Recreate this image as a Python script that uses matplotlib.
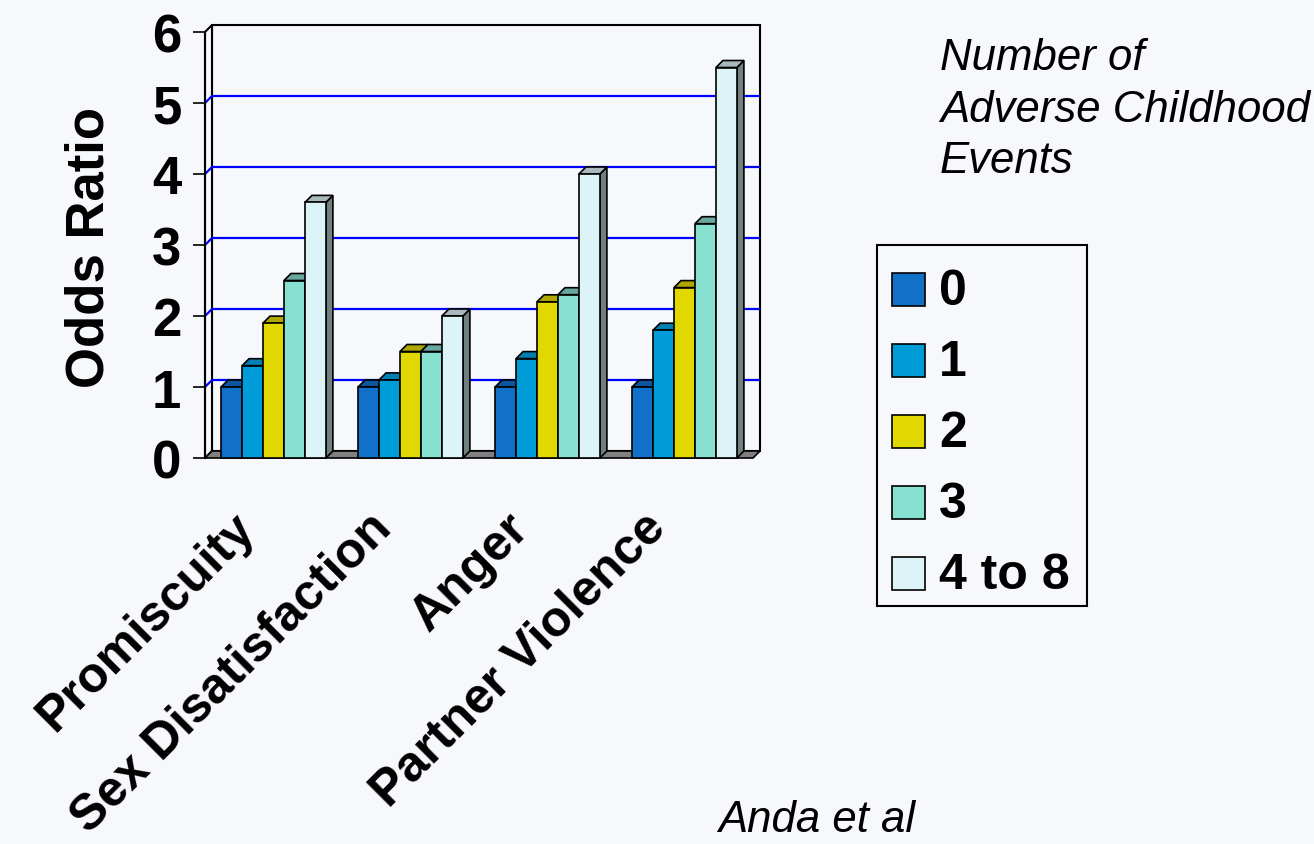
import matplotlib
matplotlib.use("Agg")
import matplotlib.pyplot as plt
from matplotlib.patches import Polygon, Rectangle
from matplotlib.transforms import blended_transform_factory, offset_copy

# ---- data -------------------------------------------------------------
categories = ["Promiscuity", "Sex Disatisfaction", "Anger", "Partner Violence"]
series_labels = ["0", "1", "2", "3", "4 to 8"]
ace_0 = [1.0, 1.0, 1.0, 1.0]
ace_1 = [1.3, 1.1, 1.4, 1.8]
ace_2 = [1.9, 1.5, 2.2, 2.4]
ace_3 = [2.5, 1.5, 2.3, 3.3]
ace_4_to_8 = [3.6, 2.0, 4.0, 5.5]
series_values = [ace_0, ace_1, ace_2, ace_3, ace_4_to_8]
y_ticks = [0, 1, 2, 3, 4, 5, 6]

# ---- style ------------------------------------------------------------
BG = "#f6f8fc"
front_colors = ["#1170c8", "#009cd8", "#e0d800", "#88e0d0", "#dcf4f8"]
top_colors = ["#0c56a0", "#0080b0", "#b0a800", "#68a8a0", "#a8b8bc"]
side_colors = ["#0a4a8c", "#006f9c", "#9c9400", "#5c948c", "#708080"]
FONT = "Liberation Sans"

W, H = 1314, 845
fig = plt.figure(figsize=(W / 100, H / 100), dpi=100, facecolor=BG)


def fx(px):
    return px / W


def fy(py):
    return 1 - py / H


# plot area (front plane) in pixels
left_px, right_px, top_px, bottom_px = 205, 753, 33, 459
ax = fig.add_axes([fx(left_px), fy(bottom_px),
                   fx(right_px - left_px), (bottom_px - top_px) / H])
ax.set_facecolor("none")
ax.set_xlim(-0.5, 3.5)
ax.set_ylim(0, 6)

# 3-D depth, 7 px in each direction, in data units
DX = 7 * 4.0 / (right_px - left_px)
DY = 7 * 6.0 / (bottom_px - top_px)
x0, x1 = -0.5, 3.5
ymax = 6

# back wall and left wall
ax.add_patch(Polygon([(x0 + DX, DY), (x1 + DX, DY), (x1 + DX, ymax + DY),
                      (x0 + DX, ymax + DY)], closed=True, facecolor=BG,
                     edgecolor="black", lw=1.5, zorder=0.5, clip_on=False))
ax.add_patch(Polygon([(x0, 0), (x0 + DX, DY), (x0 + DX, ymax + DY), (x0, ymax)],
                     closed=True, facecolor=BG, edgecolor="black", lw=1.5,
                     zorder=0.6, clip_on=False))

# gridlines on the walls
for v in y_ticks[1:-1]:
    ax.plot([x0, x0 + DX, x1 + DX], [v, v + DY, v + DY], color="#0000ff",
            lw=1.6, zorder=1, clip_on=False, solid_capstyle="butt")

# floor
ax.add_patch(Polygon([(x0, 0), (x1, 0), (x1 + DX, DY), (x0 + DX, DY)],
                     closed=True, facecolor="#808080", edgecolor="black",
                     lw=1.2, zorder=1.5, clip_on=False))

# bars
n_series = len(series_values)
bar_w = 0.153
group_w = bar_w * n_series
for j, vals in enumerate(series_values):
    xs = [i - group_w / 2 + j * bar_w for i in range(len(categories))]
    z = 3 + j * 0.1
    bars = ax.bar(xs, vals, width=bar_w, align="edge", color=front_colors[j],
                  edgecolor="black", linewidth=1.2, zorder=z + 0.05,
                  clip_on=False)
    for rect in bars:
        bx, bw, h = rect.get_x(), rect.get_width(), rect.get_height()
        ax.add_patch(Polygon([(bx + bw, 0), (bx + bw + DX, DY),
                              (bx + bw + DX, h + DY), (bx + bw, h)],
                             closed=True, facecolor=side_colors[j],
                             edgecolor="black", lw=1.2, zorder=z,
                             clip_on=False))
        ax.add_patch(Polygon([(bx, h), (bx + bw, h), (bx + bw + DX, h + DY),
                              (bx + DX, h + DY)], closed=True,
                             facecolor=top_colors[j], edgecolor="black",
                             lw=1.2, zorder=z, clip_on=False))

# axes: front left line with ticks
for s in ["top", "right", "bottom"]:
    ax.spines[s].set_visible(False)
ax.spines["left"].set_linewidth(1.5)
ax.spines["left"].set_zorder(5)
ax.set_yticks(y_ticks)
ax.set_yticklabels([str(t) for t in y_ticks], fontsize=38, fontweight="bold",
                   family=FONT)
ax.tick_params(axis="y", length=9, width=1.2, pad=8)
ax.set_xticks([])

# rotated category labels
trans = blended_transform_factory(ax.transData, ax.transAxes)
for i, cat in enumerate(categories):
    t = offset_copy(trans, fig=fig, x=-42, y=-46, units="dots")
    ax.text(i, 0, cat, transform=t, rotation=45, rotation_mode="anchor",
            ha="right", va="top", fontsize=36, fontweight="bold", family=FONT)

# y axis title
fig.text(fx(90), fy(248), "Odds Ratio", rotation=90, ha="center", va="center",
         fontsize=38, fontweight="bold", family=FONT)

# legend title
for line, base in zip(["Number of", "Adverse Childhood", "Events"],
                      [70, 122, 173]):
    fig.text(fx(940), fy(base), line, ha="left", va="baseline", fontsize=31.5,
             style="italic", family=FONT)

# legend box
fig.add_artist(Rectangle((fx(877), fy(607)), fx(1087 - 877), (607 - 246) / H,
                         transform=fig.transFigure, facecolor=BG,
                         edgecolor="black", lw=1.5))
sq = 33
for j, lab in enumerate(series_labels):
    cy = 290 + j * 71
    fig.add_artist(Rectangle((fx(892), fy(cy + sq / 2)), fx(sq), sq / H,
                             transform=fig.transFigure,
                             facecolor=front_colors[j], edgecolor="black",
                             lw=1.2))
    fig.text(fx(939), fy(cy + 15), lab, ha="left", va="baseline",
             fontsize=36, fontweight="bold", family=FONT)

# source note
fig.text(fx(718), fy(832), "Anda et al", ha="left", va="baseline",
         fontsize=31.5, style="italic", family=FONT)

fig.savefig("out.png", dpi=100, facecolor=BG)
